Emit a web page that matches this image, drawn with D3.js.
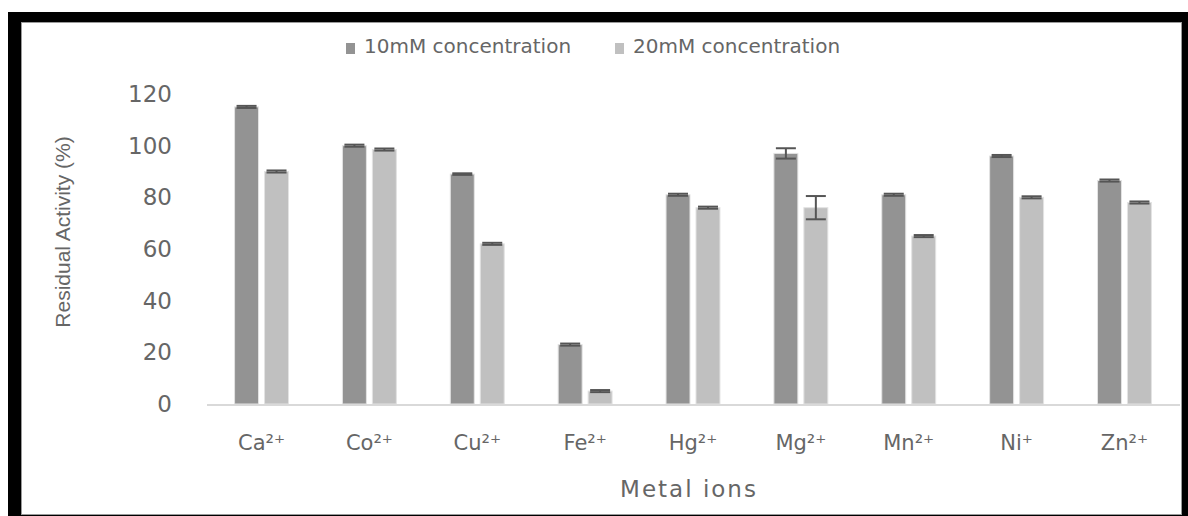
<!DOCTYPE html>
<html>
<head>
<meta charset="utf-8">
<script src="https://cdn.jsdelivr.net/npm/d3@7"></script>
<style>
  body { margin: 0; background: #fff; }
  svg { display: block; }
  text { fill: #666; font-family: "DejaVu Sans", sans-serif; }
</style>
</head>
<body>
<div id="chart"></div>
<script>
const ions = ["Ca²⁺", "Co²⁺", "Cu²⁺", "Fe²⁺", "Hg²⁺", "Mg²⁺", "Mn²⁺", "Ni⁺", "Zn²⁺"];
const series = ["10mM concentration", "20mM concentration"];
const values10 = [115, 100, 89, 23, 81, 97, 81, 96, 86.5];
const values20 = [90, 98.5, 62, 5, 76, 76, 65, 80, 78];
const err10 = [0.4, 0.4, 0.3, 0.4, 0.4, 2, 0.4, 0.4, 0.4];
const err20 = [0.4, 0.4, 0.4, 0.4, 0.4, 4.5, 0.4, 0.4, 0.4];
const yTicks = [0, 20, 40, 60, 80, 100, 120];
const colors = ["#939393", "#c0c0c0"];

const width = 1188, height = 516;

const svg = d3.select("#chart").append("svg")
    .attr("width", width)
    .attr("height", height);

// frame: thick black left/top/right, thin grey bottom
svg.append("rect").attr("x", 8).attr("y", 12).attr("width", 1180).attr("height", 504).attr("fill", "#000");
svg.append("rect").attr("x", 21.5).attr("y", 22.5).attr("width", 1160).attr("height", 492)
    .attr("fill", "#fff").attr("stroke", "#9a9a9a").attr("stroke-width", 1);

const data = ions.map((ion, i) => ({
    ion,
    bars: [
        { s: series[0], v: values10[i], e: err10[i] },
        { s: series[1], v: values20[i], e: err20[i] },
    ],
}));

const x0 = d3.scaleBand()
    .domain(ions)
    .range([207.6, 1178.4])
    .paddingInner(0.5)
    .paddingOuter(0.25);

const x1 = d3.scaleBand()
    .domain(series)
    .range([0, x0.bandwidth()])
    .paddingInner(0.2);

const y = d3.scaleLinear()
    .domain([0, 120])
    .range([404, 94]);

const color = d3.scaleOrdinal().domain(series).range(colors);

// y axis labels
const yAxis = svg.append("g")
    .attr("transform", "translate(207,0)")
    .call(d3.axisLeft(y).tickValues(yTicks).tickSize(0).tickPadding(35));
yAxis.select(".domain").remove();
yAxis.selectAll("text")
    .style("font-size", "23px")
    .style("font-family", "DejaVu Sans, sans-serif")
    .attr("fill", "#6a6a6a");

// bars
const groups = svg.selectAll(".grp")
    .data(data)
    .enter().append("g")
    .attr("class", "grp")
    .attr("transform", d => `translate(${x0(d.ion)},0)`);

groups.selectAll("rect")
    .data(d => d.bars)
    .enter().append("rect")
    .attr("x", d => x1(d.s))
    .attr("width", x1.bandwidth())
    .attr("y", d => y(d.v))
    .attr("height", d => y(0) - y(d.v))
    .attr("fill", d => color(d.s))
    .attr("stroke", "#e3e3e3")
    .attr("stroke-width", 1);

// error bars
const errG = groups.selectAll(".err")
    .data(d => d.bars)
    .enter().append("g")
    .attr("class", "err")
    .attr("stroke", "#555")
    .attr("stroke-width", 2);
const capHalf = 10;
errG.append("line")
    .attr("x1", d => x1(d.s) + x1.bandwidth() / 2)
    .attr("x2", d => x1(d.s) + x1.bandwidth() / 2)
    .attr("y1", d => y(d.v + d.e))
    .attr("y2", d => y(d.v - d.e));
errG.append("line")
    .attr("x1", d => x1(d.s) + x1.bandwidth() / 2 - capHalf)
    .attr("x2", d => x1(d.s) + x1.bandwidth() / 2 + capHalf)
    .attr("y1", d => y(d.v + d.e))
    .attr("y2", d => y(d.v + d.e));
errG.append("line")
    .attr("x1", d => x1(d.s) + x1.bandwidth() / 2 - capHalf)
    .attr("x2", d => x1(d.s) + x1.bandwidth() / 2 + capHalf)
    .attr("y1", d => y(d.v - d.e))
    .attr("y2", d => y(d.v - d.e));

// x baseline
svg.append("line")
    .attr("x1", 207).attr("x2", 1180)
    .attr("y1", y(0) + 1).attr("y2", y(0) + 1)
    .attr("stroke", "#d9d9d9").attr("stroke-width", 2);

// x labels
svg.selectAll(".xl")
    .data(ions)
    .enter().append("text")
    .attr("class", "xl")
    .attr("x", d => x0(d) + x0.bandwidth() / 2)
    .attr("y", 450)
    .attr("text-anchor", "middle")
    .style("font-size", "21px")
    .text(d => d);

// axis titles
svg.append("text")
    .attr("x", 689).attr("y", 497)
    .attr("text-anchor", "middle")
    .style("font-size", "23px")
    .style("letter-spacing", "2px")
    .text("Metal ions");

svg.append("text")
    .attr("transform", "translate(70,232) rotate(-90)")
    .attr("text-anchor", "middle")
    .style("font-family", "Liberation Sans, sans-serif")
    .style("font-size", "21px")
    .text("Residual Activity (%)");

// legend
const legendX = [346, 615];
const legend = svg.selectAll(".lg")
    .data(series)
    .enter().append("g")
    .attr("class", "lg")
    .attr("transform", (d, i) => `translate(${legendX[i]},41)`);
legend.append("rect")
    .attr("width", 9).attr("height", 11).attr("y", 2)
    .attr("fill", d => color(d));
legend.append("text")
    .attr("x", 18).attr("y", 12)
    .style("font-size", "20px")
    .text(d => d);
</script>
</body>
</html>
